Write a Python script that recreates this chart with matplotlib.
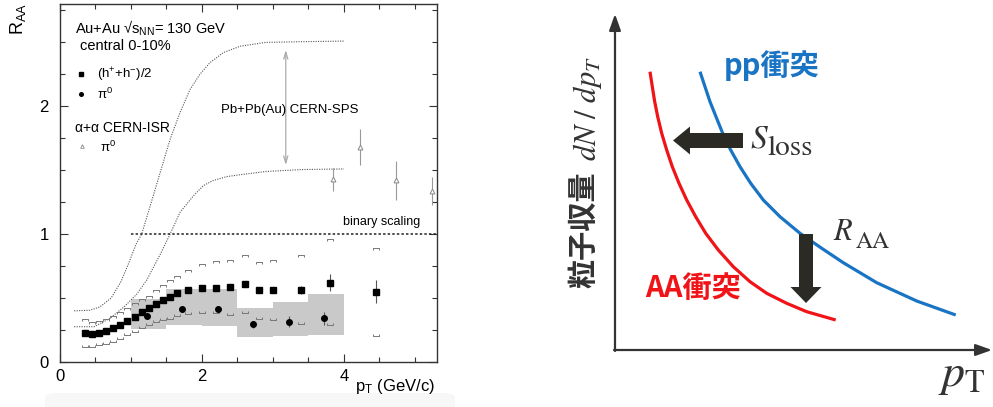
import matplotlib
matplotlib.use('Agg')
import matplotlib.pyplot as plt
from matplotlib.patches import FancyArrow, FancyArrowPatch, FancyBboxPatch
from matplotlib.path import Path
import numpy as np

plt.rcParams['font.family'] = ['Liberation Sans', 'DejaVu Sans']
plt.rcParams['mathtext.fontset'] = 'custom'
plt.rcParams['mathtext.rm'] = 'Liberation Sans'
plt.rcParams['mathtext.it'] = 'Liberation Sans:italic'
plt.rcParams['mathtext.bf'] = 'Liberation Sans:bold'
plt.rcParams['mathtext.sf'] = 'Liberation Sans'

# ---------------- left panel data ----------------
sq_pt = [0.35, 0.45, 0.55, 0.65, 0.75, 0.85, 0.95, 1.05, 1.15, 1.25, 1.35, 1.45,
         1.55, 1.65, 1.8, 2.0, 2.2, 2.4, 2.6, 2.8, 3.0, 3.4, 3.8, 4.45]
sq_raa = [0.224, 0.216, 0.224, 0.245, 0.268, 0.292, 0.320, 0.354, 0.390, 0.424, 0.456, 0.482,
          0.508, 0.536, 0.560, 0.575, 0.580, 0.583, 0.607, 0.560, 0.563, 0.565, 0.620, 0.548]
sq_err = [0.005] * 14 + [0.006, 0.008, 0.008, 0.01, 0.02, 0.015, 0.026, 0.03, 0.065, 0.09]
sq_sys_hi = [0.333, 0.315, 0.32, 0.34, 0.36, 0.39, 0.42, 0.46, 0.49, 0.52, 0.5625, 0.60,
             0.64, 0.674, 0.72, 0.77, 0.79, 0.797, 0.84, 0.78, 0.80, 0.84, 0.96, 0.895]
sq_sys_lo = [0.115, 0.12, 0.13, 0.14, 0.16, 0.18, 0.21, 0.237, 0.268, 0.289, 0.31, 0.328,
             0.34, 0.362, 0.375, 0.38, 0.38, 0.367, 0.38, 0.336, 0.326, 0.296, 0.287, 0.205]

pi_pt = [1.22, 1.72, 2.22, 2.72, 3.23, 3.72]
pi_raa = [0.362, 0.414, 0.411, 0.294, 0.316, 0.341]
pi_err = [0.015, 0.02, 0.022, 0.026, 0.04, 0.052]

box_left = [1.0, 1.5, 2.0, 2.5, 3.0, 3.5]
box_bot = [0.258, 0.290, 0.285, 0.196, 0.205, 0.208]
box_top = [0.491, 0.570, 0.570, 0.425, 0.471, 0.532]

isr_pt = [3.84, 4.23, 4.73, 5.24]
isr_raa = [1.43, 1.68, 1.42, 1.34]
isr_err = [0.09, 0.14, 0.155, 0.11]

sps_hi_pt = [0.2, 0.42, 0.56, 0.72, 0.86, 0.98, 1.07, 1.15, 1.27, 1.41, 1.55, 1.69,
             1.83, 1.97, 2.11, 2.30, 2.54, 2.90, 3.40, 4.0]
sps_hi_raa = [0.40, 0.405, 0.43, 0.50, 0.63, 0.79, 0.92, 1.0, 1.22, 1.48, 1.74, 1.95,
              2.13, 2.25, 2.34, 2.42, 2.47, 2.50, 2.505, 2.51]
sps_lo_pt = [0.2, 0.48, 0.70, 0.90, 1.08, 1.22, 1.41, 1.55, 1.69, 1.88, 2.02, 2.16,
             2.35, 2.54, 2.90, 3.40, 4.0]
sps_lo_raa = [0.276, 0.276, 0.34, 0.43, 0.53, 0.64, 0.84, 1.0, 1.17, 1.30, 1.38, 1.42,
              1.45, 1.465, 1.49, 1.505, 1.51]

binary_pt = [1.0, 5.31]
binary_raa = [1.0, 1.0]

# ---------------- right panel data (schematic, pixel space) ----------------
pp_x = [700.0, 705.0, 710.0, 716.0, 722.7, 730.7, 740.0, 750.7, 763.3, 780.0,
        800.0, 821.7, 843.3, 876.7, 916.7, 955.7]
pp_y = [71.7, 86.7, 101.7, 116.7, 133.3, 150.0, 166.7, 183.3, 200.0, 216.7,
        233.3, 248.3, 262.7, 282.7, 301.0, 315.0]
aa_x = [650.0, 652.3, 654.7, 657.7, 661.7, 666.7, 672.3, 679.0, 686.7, 695.7,
        705.7, 718.3, 733.3, 750.0, 766.7, 786.7, 806.7, 835.7]
aa_y = [71.7, 86.7, 101.7, 116.7, 133.3, 150.0, 166.7, 183.3, 200.0, 216.7,
        233.3, 250.0, 266.7, 281.7, 293.3, 303.3, 311.7, 320.0]

W, H = 993, 407
fig = plt.figure(figsize=(W / 100, H / 100), dpi=100)

# faint band at the bottom of the left panel
fig.add_artist(FancyBboxPatch((45 / W, -0.02), 410 / W, 14 / H + 0.02,
                              boxstyle='round,pad=0,rounding_size=0.012',
                              transform=fig.transFigure, color='#f7f7f7', zorder=0, lw=0))

ax = fig.add_axes([60 / W, 1 - 362 / H, 377 / W, 358 / H])
ax.set_xlim(0, 5.31)
ax.set_ylim(0, 2.8)

ax.bar(box_left, np.array(box_top) - np.array(box_bot), width=0.5, bottom=box_bot,
       align='edge', color='#c9c9c9', lw=0, zorder=1)

dot = (0, (1, 1.2))
ax.plot(sps_hi_pt, sps_hi_raa, color='#555555', lw=0.8, ls=dot, zorder=2)
ax.plot(sps_lo_pt, sps_lo_raa, color='#555555', lw=0.8, ls=dot, zorder=2)
ax.plot(binary_pt, binary_raa, color='#222222', lw=1.1, ls=(0, (1.6, 1.4)), zorder=2)

up_br = Path([(-1, -0.7), (-1, 0), (1, 0), (1, -0.7)],
             [Path.MOVETO, Path.LINETO, Path.LINETO, Path.LINETO])
lo_br = Path([(-1, 0.7), (-1, 0), (1, 0), (1, 0.7)],
             [Path.MOVETO, Path.LINETO, Path.LINETO, Path.LINETO])
ax.plot(sq_pt, sq_sys_hi, ls='none', marker=up_br, ms=4.5, mew=0.7, mec='#777777',
        mfc='none', zorder=3)
ax.plot(sq_pt, sq_sys_lo, ls='none', marker=lo_br, ms=4.5, mew=0.7, mec='#777777',
        mfc='none', zorder=3)

ax.errorbar(sq_pt, sq_raa, yerr=sq_err, fmt='s', ms=4, color='black', ecolor='#555555',
            elinewidth=0.8, capsize=0, zorder=4)
ax.errorbar(pi_pt, pi_raa, yerr=pi_err, fmt='o', ms=4, color='black', ecolor='#555555',
            elinewidth=0.8, capsize=0, zorder=4)
ax.errorbar(isr_pt, isr_raa, yerr=isr_err, fmt='^', ms=3.5, mfc='white', mec='#888888',
            mew=0.7, ecolor='#999999', elinewidth=0.8, capsize=0, zorder=4)

ax.annotate('', xy=(3.18, 2.44), xytext=(3.18, 1.54),
            arrowprops=dict(arrowstyle='<->,head_length=0.5,head_width=0.15',
                            color='#aaaaaa', lw=0.9, shrinkA=0, shrinkB=0))
ax.text(3.24, 1.97, 'Pb+Pb(Au) CERN-SPS', fontsize=9.5, ha='center', va='center')
ax.text(4.53, 1.094, 'binary scaling', fontsize=9, ha='center', va='center')

# legend block
ax.text(0.211, 2.568, 'Au+Au √s$_{\\mathrm{NN}}$= 130 GeV', fontsize=10.5, ha='left',
        va='baseline')
ax.text(0.282, 2.4375, 'central 0-10%', fontsize=10.5, ha='left', va='baseline')
ax.plot([0.296], [2.25], 's', ms=2.6, color='black')
ax.text(0.521, 2.215, '(h$^{+}$+h$^{-}$)/2', fontsize=9.5, ha='left', va='baseline')
ax.plot([0.296], [2.094], 'o', ms=2.6, color='black')
ax.text(0.521, 2.06, 'π$^{0}$', fontsize=9.5, ha='left', va='baseline')
ax.text(0.211, 1.80, 'α+α CERN-ISR', fontsize=10, ha='left', va='baseline')
ax.plot([0.31], [1.6875], '^', ms=2.6, mfc='white', mec='#888888', mew=0.6)
ax.text(0.563, 1.643, 'π$^{0}$', fontsize=9.5, ha='left', va='baseline')

ax.set_xticks([0, 2, 4])
ax.set_xticks(np.arange(0, 5.31, 0.5), minor=True)
ax.set_yticks([0, 1, 2])
ax.set_yticks(np.arange(0, 2.8, 0.25), minor=True)
ax.tick_params(which='both', direction='in', top=True, right=True, color='#333333',
               width=0.8)
ax.tick_params(which='major', length=6, labelsize=12)
ax.tick_params(which='minor', length=3.5)
ax.tick_params(axis='y', pad=8)
ax.tick_params(axis='x', pad=5)
for s in ax.spines.values():
    s.set_linewidth(1.0)
    s.set_color('#333333')

fig.text(18 / W, 1 - 19 / H, 'R$_{\\mathrm{AA}}$', rotation=90, ha='center', va='center',
         fontsize=13)
fig.text(435 / W, 1 - 386 / H, 'p$_{\\mathrm{T}}$ (GeV/c)', ha='right', va='center',
         fontsize=12)

# ---------------- right panel ----------------
ax2 = fig.add_axes([0.5, 0, 0.5, 1])
ax2.set_xlim(496.5, 993)
ax2.set_ylim(407, 0)
ax2.axis('off')
ax2.patch.set_visible(False)

axc = '#333333'
ax2.add_patch(FancyArrowPatch((615, 351), (615, 14),
                              arrowstyle='-|>,head_length=0.7,head_width=0.25',
                              mutation_scale=14, lw=1.6, color=axc, shrinkA=0, shrinkB=0))
ax2.add_patch(FancyArrowPatch((614, 350), (992, 350),
                              arrowstyle='-|>,head_length=0.7,head_width=0.25',
                              mutation_scale=14, lw=1.6, color=axc, shrinkA=0, shrinkB=0))

ax2.plot(pp_x, pp_y, color='#1a74c4', lw=2.3, solid_capstyle='butt',
         solid_joinstyle='round', zorder=3)
ax2.plot(aa_x, aa_y, color='#f01418', lw=2.3, solid_capstyle='butt',
         solid_joinstyle='round', zorder=3)

arc = '#2c2a24'
ax2.add_patch(FancyArrow(743, 140.5, -70, 0, width=15, head_width=28, head_length=17,
                         length_includes_head=True, color=arc, lw=0, zorder=4))
ax2.add_patch(FancyArrow(806, 234, 0, 69, width=14, head_width=31, head_length=16,
                         length_includes_head=True, color=arc, lw=0, zorder=4))

cjk = ['Noto Sans CJK JP', 'DejaVu Sans']
ax2.text(724, 66, 'pp衝突', family=cjk, fontsize=21, fontweight='bold', color='#1a74c4',
         ha='left', va='center')
ax2.text(645, 288, 'AA衝突', family=cjk, fontsize=21, fontweight='bold', color='#f01418',
         ha='left', va='center')

ax2.text(750, 147, '$S$', math_fontfamily='stix', fontsize=24, color=axc, ha='left',
         va='baseline')
ax2.text(767, 155, 'loss', family='STIXGeneral', fontsize=21, color=axc, ha='left',
         va='baseline')
ax2.text(833, 240, '$R$', math_fontfamily='stix', fontsize=22, color=axc, ha='left',
         va='baseline')
ax2.text(856, 248, 'AA', family='STIXGeneral', fontsize=17, color=axc, ha='left',
         va='baseline')
ax2.text(938, 386, '$p$', math_fontfamily='stix', fontsize=33, color=axc, ha='left',
         va='baseline')
ax2.text(964, 392, 'T', family='STIXGeneral', fontsize=23, color=axc, ha='left',
         va='baseline')

ax2.text(583, 230, '粒子収量', family=cjk, fontsize=21, fontweight='bold', color=axc,
         rotation=90, ha='center', va='center')
ax2.text(587, 109, '$dN\\ /\\ dp_T$', math_fontfamily='stix', fontsize=22, color=axc,
         rotation=90, ha='center', va='center')

fig.savefig('out.png', dpi=100)
